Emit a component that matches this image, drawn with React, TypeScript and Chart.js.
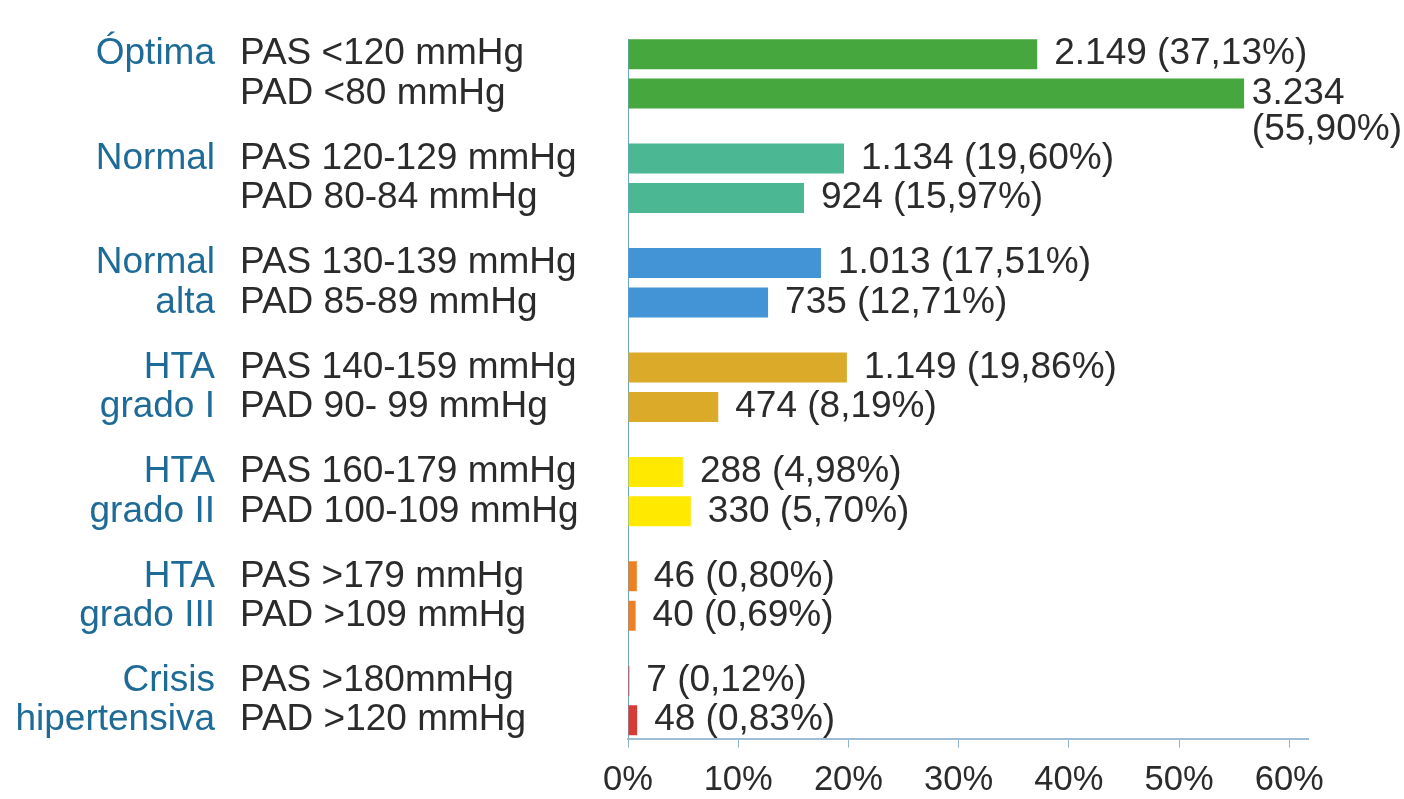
import React, { useEffect, useRef } from 'react';
import { Chart, registerables } from 'chart.js';

Chart.register(...registerables);

// ---- data ----
const groupLine1 = ['Óptima', 'Normal', 'Normal', 'HTA', 'HTA', 'HTA', 'Crisis'];
const groupLine2 = ['', '', 'alta', 'grado I', 'grado II', 'grado III', 'hipertensiva'];
const pasLabels = [
  'PAS <120 mmHg',
  'PAS 120-129 mmHg',
  'PAS 130-139 mmHg',
  'PAS 140-159 mmHg',
  'PAS 160-179 mmHg',
  'PAS >179 mmHg',
  'PAS >180mmHg',
];
const padLabels = [
  'PAD <80 mmHg',
  'PAD 80-84 mmHg',
  'PAD 85-89 mmHg',
  'PAD 90- 99 mmHg',
  'PAD 100-109 mmHg',
  'PAD >109 mmHg',
  'PAD >120 mmHg',
];
const pasCounts = ['2.149', '1.134', '1.013', '1.149', '288', '46', '7'];
const padCounts = ['3.234', '924', '735', '474', '330', '40', '48'];
const pasPct = [37.13, 19.6, 17.51, 19.86, 4.98, 0.8, 0.12];
const padPct = [55.9, 15.97, 12.71, 8.19, 5.7, 0.69, 0.83];
const groupColors = ['#46a73f', '#4bb793', '#4394d7', '#dcaa29', '#ffe900', '#ef7f1f', '#d73b35'];
const xTicks = [0, 10, 20, 30, 40, 50, 60];

const FONT = '"Liberation Sans", Arial, sans-serif';
const TEXT_COLOR = '#2b2b2b';
const CAT_COLOR = '#1d6b96';

const fmtPct = (v: number) => v.toFixed(2).replace('.', ',') + '%';

const labelPlugin = {
  id: 'sideLabels',
  afterDatasetsDraw(chart: any) {
    const ctx = chart.ctx;
    const left = chart.chartArea.left;
    ctx.save();
    ctx.font = `37px ${FONT}`;
    ctx.textBaseline = 'middle';
    [0, 1].forEach((d) => {
      const meta = chart.getDatasetMeta(d);
      meta.data.forEach((bar: any, i: number) => {
        const y = bar.y;
        // PAS / PAD label
        ctx.fillStyle = TEXT_COLOR;
        ctx.textAlign = 'left';
        ctx.fillText(d === 0 ? pasLabels[i] : padLabels[i], left - 388, y);
        // category label
        const cat = d === 0 ? groupLine1[i] : groupLine2[i];
        if (cat) {
          ctx.fillStyle = CAT_COLOR;
          ctx.textAlign = 'right';
          ctx.fillText(cat, left - 413, y);
        }
        // value label
        const count = d === 0 ? pasCounts[i] : padCounts[i];
        const pctTxt = `(${fmtPct(d === 0 ? pasPct[i] : padPct[i])})`;
        const txt = `${count} ${pctTxt}`;
        let x = bar.x + 17;
        ctx.fillStyle = TEXT_COLOR;
        ctx.textAlign = 'left';
        if (x + ctx.measureText(txt).width > chart.width - 4) {
          const w = Math.max(ctx.measureText(count).width, ctx.measureText(pctTxt).width);
          x = Math.min(x, chart.width - w - 2);
          ctx.fillText(count, x, y);
          ctx.fillText(pctTxt, x, y + 36);
        } else {
          ctx.fillText(txt, x, y);
        }
      });
    });
    ctx.restore();
  },
};

export default function App() {
  const ref = useRef<HTMLCanvasElement | null>(null);

  useEffect(() => {
    document.body.style.margin = '0';
    if (!ref.current) return;
    const chart = new Chart(ref.current, {
      type: 'bar',
      data: {
        datasets: [
          {
            label: 'PAS',
            data: pasPct.map((v, i) => ({ x: v, y: i })),
            backgroundColor: groupColors,
            borderWidth: 0,
            categoryPercentage: 0.756,
            barPercentage: 0.76,
          },
          {
            label: 'PAD',
            data: padPct.map((v, i) => ({ x: v, y: i })),
            backgroundColor: groupColors,
            borderWidth: 0,
            categoryPercentage: 0.756,
            barPercentage: 0.76,
          },
        ],
      },
      options: {
        indexAxis: 'y',
        responsive: false,
        animation: false,
        layout: { padding: { left: 628, right: 96, top: 39, bottom: -14 } },
        plugins: {
          legend: { display: false },
          tooltip: { enabled: false },
        },
        scales: {
          y: {
            type: 'linear',
            reverse: true,
            offset: false,
            min: -0.334,
            max: 6.365,
            afterBuildTicks: (scale: any) => {
              scale.ticks = groupLine1.map((_, i) => ({ value: i }));
            },
            ticks: { display: false },
            grid: { display: false, drawTicks: false, tickLength: 0 },
            border: { display: true, color: '#6fa5cc', width: 1 },
          },
          x: {
            type: 'linear',
            min: 0,
            max: 61.7,
            afterBuildTicks: (scale: any) => {
              scale.ticks = xTicks.map((v) => ({ value: v }));
            },
            ticks: {
              callback: (v: any) => `${v}%`,
              font: { size: 34.5, family: FONT },
              color: TEXT_COLOR,
              padding: 12,
              maxRotation: 0,
              autoSkip: false,
            },
            grid: {
              drawOnChartArea: false,
              drawTicks: true,
              tickLength: 9,
              color: '#8fb4d0',
            },
            border: { display: true, color: '#9dbdd6', width: 2 },
          },
        },
      },
      plugins: [labelPlugin],
    } as any);
    return () => chart.destroy();
  }, []);

  return (
    <div style={{ width: 1404, height: 799, background: '#ffffff' }}>
      <canvas ref={ref} width={1404} height={799} style={{ display: 'block' }} />
    </div>
  );
}
